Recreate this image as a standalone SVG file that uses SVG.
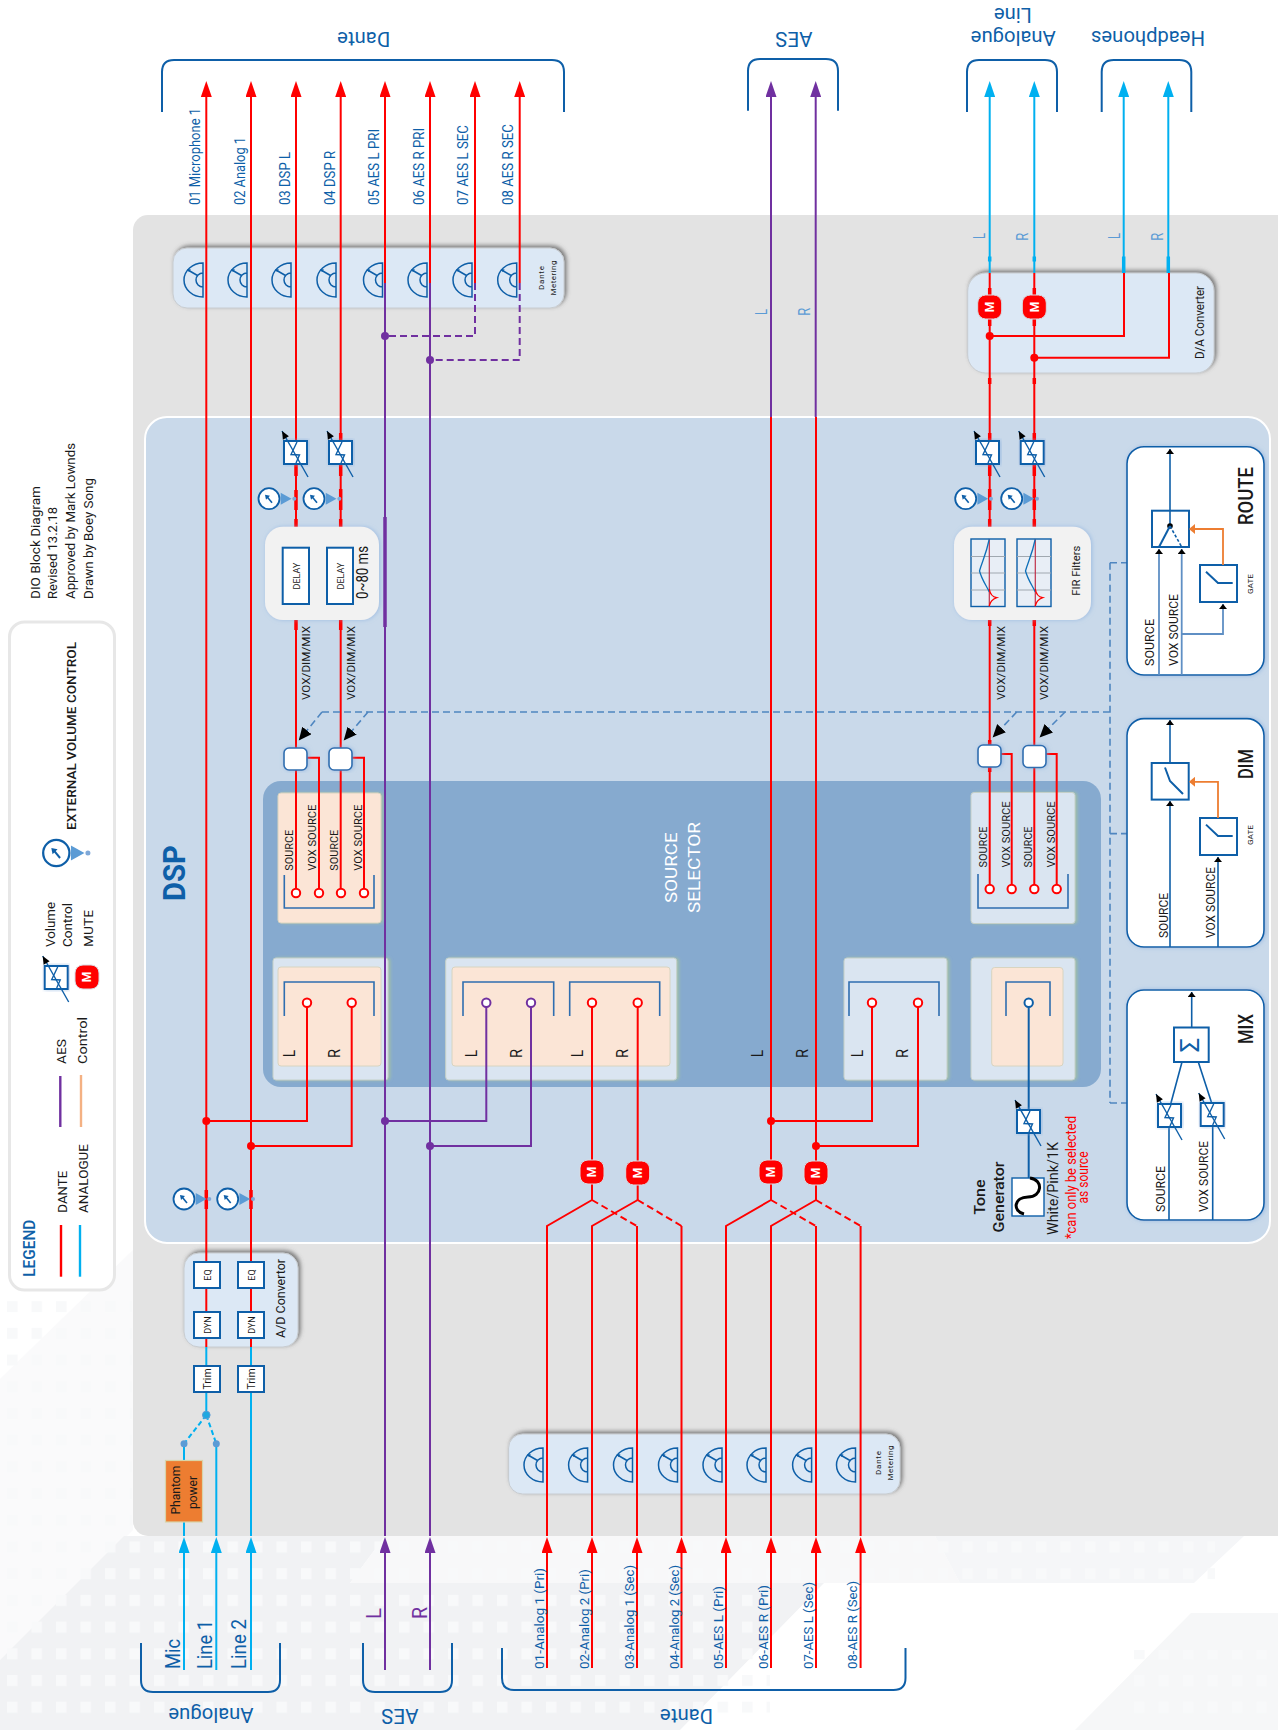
<svg xmlns="http://www.w3.org/2000/svg" width="1278" height="1730" viewBox="0 0 1278 1730">
<style>
text{font-family:Roboto,"Liberation Sans",sans-serif;fill:#1a1a1a}
.bt{fill:#0e5fa8}
.l{fill:none;stroke-width:2}
.red{stroke:#ff0000}.cy{stroke:#00b0f0}.pu{stroke:#7030a0}.th{stroke-width:3.5}
.d{stroke-dasharray:7 4}
.ctl{fill:none;stroke:#4f86c0;stroke-width:1.6;stroke-dasharray:7 4}
.br{fill:none;stroke:#0e5fa8;stroke-width:2}
.sel{fill:none;stroke:#2f6eb0;stroke-width:1.6}
.box{fill:#fff;stroke:#0e5fa8;stroke-width:2}
.mod{fill:#dce8f5;stroke:#c8ccd0;stroke-width:1}
.pale{fill:#dae5f1;stroke:#c5d0c8;stroke-width:1}
.peach{fill:#fbe5d6;stroke:#d8d4c0;stroke-width:1}
.gr{fill:#f2f2f2}
.pan{fill:#fff;stroke:#0e5fa8;stroke-width:1.6}
.in{fill:none;stroke:#5f8fc4;stroke-width:1.8}
.out{fill:none;stroke:#0e5fa8;stroke-width:1.6}
.or{fill:none;stroke:#ed7d31;stroke-width:1.8}
.mb{fill:#ff0000;stroke:#d8dde4;stroke-width:1}
.mt{fill:#fff;font-size:12px;font-weight:700;text-anchor:middle}
</style>
<defs>
<filter id="sh" x="-10%" y="-20%" width="120%" height="140%"><feDropShadow dx="2" dy="-2" stdDeviation="2.2" flood-color="#555" flood-opacity=".75"/></filter>
<filter id="gl" x="-10%" y="-10%" width="120%" height="120%"><feDropShadow dx="1" dy="0" stdDeviation="2" flood-color="#7fa8dc" flood-opacity=".6"/></filter>
<filter id="gg" x="-10%" y="-10%" width="125%" height="120%"><feDropShadow dx="2" dy="0" stdDeviation="1.5" flood-color="#a9c79a" flood-opacity=".7"/></filter>
<marker id="ar" markerUnits="userSpaceOnUse" markerWidth="16" markerHeight="11" refX="0" refY="5.5" orient="auto"><path d="M0,0L16,5.5L0,11z" fill="#ff0000"/></marker>
<marker id="ac" markerUnits="userSpaceOnUse" markerWidth="16" markerHeight="11" refX="0" refY="5.5" orient="auto"><path d="M0,0L16,5.5L0,11z" fill="#00b0f0"/></marker>
<marker id="ap" markerUnits="userSpaceOnUse" markerWidth="16" markerHeight="11" refX="0" refY="5.5" orient="auto"><path d="M0,0L16,5.5L0,11z" fill="#7030a0"/></marker>
<marker id="ak" markerUnits="userSpaceOnUse" markerWidth="14" markerHeight="13" refX="11" refY="6" orient="auto"><path d="M0,0L13,6L0,12z" fill="#000"/></marker>
<marker id="sk" markerUnits="userSpaceOnUse" markerWidth="6" markerHeight="9" refX="5" refY="4" orient="auto"><path d="M0,0L5,4L0,8z" fill="#000"/></marker>
<marker id="so" markerUnits="userSpaceOnUse" markerWidth="8" markerHeight="10" refX="5" refY="5" orient="auto"><path d="M0,0L6,5L0,10z" fill="#ed7d31"/></marker>
<g id="meter"><path d="M0,-17A19,17 0 0 0 0,17Z M0,-7A7,7 0 0 0 0,7 M-15,-10L-5.5,-4.5" fill="none" stroke="#0e5fa8" stroke-width="1.5"/><path d="M-16,-11L-12,-10.5L-14,-8Z" fill="#0e5fa8"/></g>
<g id="knob"><circle r="10.5" fill="#fff" stroke="#0e5fa8" stroke-width="1.8"/><path d="M3,4L-1.5,-1.5" stroke="#0e5fa8" stroke-width="1.6"/><path d="M-4,-4L1,-3L-3,1Z" fill="#0e5fa8"/><path d="M11.7,-6L22.5,0L11.7,6Z" fill="#5b9bd5"/><circle cx="25.3" r="2" fill="#7fa8d8"/></g>
<g id="vol"><rect width="23" height="23" class="box" filter="url(#gl)"/><path d="M13,1L7,13.5L15.5,14L12,22" fill="none" stroke="#0e5fa8" stroke-width="1.4"/><path d="M24,36L-2,-10" stroke="#0e5fa8" stroke-width="1.4"/><path d="M-2,-10L4.9,-4.7L-1.1,-1.3Z" fill="#000"/></g>
<g id="fir"><rect x="0" y="0" width="34" height="67.5" fill="#e8eef6" stroke="#0e5fa8" stroke-width="1.4"/><path d="M0,17.5H34M0,34H34M0,51H34" stroke="#a0a8b0" stroke-width="1"/><path d="M18.3,0V67.5" stroke="#c0304a" stroke-width="1.2"/><path d="M18.3,0C15,16 11,23 8.5,32C11,41 15,46 18.3,53" fill="none" stroke="#0e6fb8" stroke-width="1.3"/><path d="M18.3,50C19,55 22,58 25.7,58.7C22,60 19,63 18.3,67" fill="none" stroke="#ff0000" stroke-width="1.3"/></g>
<pattern id="sq" patternUnits="userSpaceOnUse" x="7" y="1541.5" width="24.5" height="26.7"><rect width="10.5" height="11" fill="#f8f9fa"/></pattern>
</defs>

<g id="background">
<rect width="1278" height="1730" fill="#fff"/>
<polygon points="0,1379 133,1250 133,1530 0,1660" fill="#fafafb"/>
<polygon points="0,1660 124,1536 385,1536 350,1583 824,1583 680,1730 0,1730" fill="#f1f2f4"/>
<polygon points="385,1536 935,1536 960,1583 350,1583" fill="#f8f8f9"/>
<polygon points="935,1536 1244,1536 1194,1583 960,1583" fill="#f5f6f8"/>
<polygon points="1075,1730 1191,1613 1278,1613 1278,1730" fill="#f6f7f8"/>
<rect x="0" y="1541" width="770" height="175" fill="url(#sq)"/>
<rect x="770" y="1541" width="445" height="40" fill="url(#sq)"/>
<rect x="1130" y="1650" width="148" height="66" fill="url(#sq)"/>
<rect x="0" y="1300" width="132" height="240" fill="url(#sq)"/>
<rect x="133" y="215" width="1165" height="1321" rx="15" fill="#e3e3e3"/>
<rect x="145" y="417" width="1125" height="826" rx="22" fill="#c9d9ea" stroke="#fff" stroke-width="2"/>
</g>

<g id="source-selector">
<rect x="263" y="781" width="838" height="306" rx="18" fill="#86aacf"/>
<text transform="translate(676.7 903) rotate(-90)" style="fill:#fff" font-size="17" textLength="70.7" lengthAdjust="spacingAndGlyphs">SOURCE</text>
<text transform="translate(700 913) rotate(-90)" style="fill:#fff" font-size="17" textLength="91" lengthAdjust="spacingAndGlyphs">SELECTOR</text>
<rect x="278" y="793" width="103" height="130" rx="3" class="peach" filter="url(#gg)"/>
<g font-size="11.5">
<text transform="translate(293 870.7) rotate(-90)" textLength="41" lengthAdjust="spacingAndGlyphs">SOURCE</text>
<text transform="translate(316 870.7) rotate(-90)" textLength="66" lengthAdjust="spacingAndGlyphs">VOX SOURCE</text>
<text transform="translate(338 870.7) rotate(-90)" textLength="41" lengthAdjust="spacingAndGlyphs">SOURCE</text>
<text transform="translate(362 870.7) rotate(-90)" textLength="66" lengthAdjust="spacingAndGlyphs">VOX SOURCE</text>
</g>
<path class="sel" d="M284.3,875V908H374V875"/>
<rect x="971" y="792.5" width="104" height="131" rx="3" class="pale" filter="url(#gg)"/>
<g font-size="11.5">
<text transform="translate(987 867.5) rotate(-90)" textLength="41" lengthAdjust="spacingAndGlyphs">SOURCE</text>
<text transform="translate(1010 867.5) rotate(-90)" textLength="66" lengthAdjust="spacingAndGlyphs">VOX SOURCE</text>
<text transform="translate(1032 867.5) rotate(-90)" textLength="41" lengthAdjust="spacingAndGlyphs">SOURCE</text>
<text transform="translate(1055 867.5) rotate(-90)" textLength="66" lengthAdjust="spacingAndGlyphs">VOX SOURCE</text>
</g>
<path class="sel" d="M978,874V908H1068V874"/>
<rect x="273" y="958" width="115" height="122" rx="3" class="pale" filter="url(#gg)"/>
<rect x="278" y="967" width="103" height="99" rx="3" class="peach"/>
<path class="sel" d="M284.3,1016V982H374V1016"/>
<rect x="445.7" y="958" width="231" height="122" rx="3" class="pale" filter="url(#gg)"/>
<rect x="452" y="967" width="218" height="99" rx="3" class="peach"/>
<path class="sel" d="M463,1016V982H553.7V1016M569.7,1016V982H659.7V1016"/>
<rect x="844" y="958" width="103" height="122" rx="3" class="pale" filter="url(#gg)"/>
<path class="sel" d="M849,1016V982H939V1016"/>
<rect x="971" y="958" width="104" height="122" rx="3" class="pale" filter="url(#gg)"/>
<rect x="991.7" y="967.5" width="71.3" height="98.5" rx="3" class="peach"/>
<path class="sel" d="M1006,1016V982H1050V1016"/>
<g font-size="16">
<text transform="translate(295 1057) rotate(-90)" textLength="7" lengthAdjust="spacingAndGlyphs">L</text>
<text transform="translate(340 1058) rotate(-90)" textLength="9" lengthAdjust="spacingAndGlyphs">R</text>
<text transform="translate(477 1057) rotate(-90)" textLength="7" lengthAdjust="spacingAndGlyphs">L</text>
<text transform="translate(522 1058) rotate(-90)" textLength="9" lengthAdjust="spacingAndGlyphs">R</text>
<text transform="translate(583 1057) rotate(-90)" textLength="7" lengthAdjust="spacingAndGlyphs">L</text>
<text transform="translate(628 1058) rotate(-90)" textLength="9" lengthAdjust="spacingAndGlyphs">R</text>
<text transform="translate(762.7 1057) rotate(-90)" textLength="7" lengthAdjust="spacingAndGlyphs">L</text>
<text transform="translate(807.7 1058) rotate(-90)" textLength="9" lengthAdjust="spacingAndGlyphs">R</text>
<text transform="translate(862.7 1057) rotate(-90)" textLength="7" lengthAdjust="spacingAndGlyphs">L</text>
<text transform="translate(908 1058) rotate(-90)" textLength="9" lengthAdjust="spacingAndGlyphs">R</text>
</g>
</g>

<g id="meter-top">
<rect x="173" y="248" width="391" height="60" rx="14" class="mod" filter="url(#sh)"/>
<use href="#meter" x="203" y="280"/><use href="#meter" x="247" y="280"/><use href="#meter" x="291" y="280"/><use href="#meter" x="336" y="280"/><use href="#meter" x="382.5" y="280"/><use href="#meter" x="427" y="280"/><use href="#meter" x="472" y="280"/><use href="#meter" x="516.7" y="280"/>
<text transform="translate(544 278) rotate(-90)" font-size="8" text-anchor="middle" textLength="24">Dante</text>
<text transform="translate(556 278) rotate(-90)" font-size="8" text-anchor="middle" textLength="35">Metering</text>
</g>
<g id="meter-bottom">
<rect x="508.6" y="1434" width="391.4" height="60" rx="14" class="mod" filter="url(#sh)"/>
<use href="#meter" x="543" y="1465"/><use href="#meter" x="587.6" y="1465"/><use href="#meter" x="632.5" y="1465"/><use href="#meter" x="677.5" y="1465"/><use href="#meter" x="722" y="1465"/><use href="#meter" x="766" y="1465"/><use href="#meter" x="811.6" y="1465"/><use href="#meter" x="855.5" y="1465"/>
<text transform="translate(881 1463) rotate(-90)" font-size="8" text-anchor="middle" textLength="24">Dante</text>
<text transform="translate(893 1463) rotate(-90)" font-size="8" text-anchor="middle" textLength="35">Metering</text>
</g>
<g id="ad-converter"><rect x="184" y="1253" width="114" height="94" rx="15" class="mod" filter="url(#sh)"/>
<text transform="translate(285 1338) rotate(-90)" font-size="13" textLength="79" lengthAdjust="spacingAndGlyphs">A/D Convertor</text></g>
<g id="da-converter"><rect x="967.7" y="273" width="246.3" height="100" rx="18" class="mod" filter="url(#sh)"/>
<text transform="translate(1204 359) rotate(-90)" font-size="13" textLength="73" lengthAdjust="spacingAndGlyphs">D/A Converter</text></g>

<g id="connectors">
<g>
<path class="l red" d="M206.3,1347V97" marker-end="url(#ar)"/>
<path class="l red" d="M251,1347V97" marker-end="url(#ar)"/>
<path class="l red" d="M296,893V97" marker-end="url(#ar)"/>
<path class="l red" d="M340.7,893V97" marker-end="url(#ar)"/>
<path class="l red" d="M385,283V97" marker-end="url(#ar)"/>
<path class="l red" d="M430,283V97" marker-end="url(#ar)"/>
<path class="l red" d="M475,283V97" marker-end="url(#ar)"/>
<path class="l red" d="M519.7,283V97" marker-end="url(#ar)"/>
<path class="l red" d="M206.3,1121H307V1007"/>
<path class="l red" d="M251,1146H351.7V1007"/>
<path class="l red" d="M592,1007V1200M637.7,1007V1200"/>
<path class="l red" d="M771,417V1200M816,417V1200"/>
<path class="l red" d="M771,1121H872V1007M816,1146H918V1007"/>
<path class="l red" d="M307,757.7H319V889M352,757.7H364V889"/>
<path class="l red" d="M1001,754H1011.7V885M1045.7,754H1056.7V885"/>
<path class="l red" d="M989.7,885V273M1034.3,885V273"/>
<path class="l red" d="M989.7,336H1124V273M1034.3,357.7H1169V273"/>
<path class="l red" d="M547,1536V1226L592,1200M592,1536V1226L637.7,1200M637,1536V1226M681.5,1536V1226"/>
<path class="l red" d="M726,1536V1226L771,1200M771,1536V1226L816,1200M816,1536V1226M860.6,1536V1226"/>
<path class="l red d" d="M592,1200L637,1226M637.7,1200L681.5,1226M771,1200L816,1226M816,1200L860.6,1226"/>
<path class="l red" d="M547,1668V1553" marker-end="url(#ar)"/>
<path class="l red" d="M592,1668V1553" marker-end="url(#ar)"/>
<path class="l red" d="M637,1668V1553" marker-end="url(#ar)"/>
<path class="l red" d="M681.5,1668V1553" marker-end="url(#ar)"/>
<path class="l red" d="M726,1668V1553" marker-end="url(#ar)"/>
<path class="l red" d="M771,1668V1553" marker-end="url(#ar)"/>
<path class="l red" d="M816,1668V1553" marker-end="url(#ar)"/>
<path class="l red" d="M860.6,1668V1553" marker-end="url(#ar)"/>
<path class="l red th" d="M296,464V476M296,490V510M296,519V527M296,620V630M340.7,433V441M340.7,464V476M340.7,489V510M340.7,519V527M340.7,620V630M206.3,1190V1209M251,1190V1209M989.7,433V441M989.7,464V476M989.7,489V510M989.7,519V527M989.7,620V626M1034.3,433V441M1034.3,464V476M989.7,740V745M989.7,767V772M1034.3,489V510M1034.3,519V527M1034.3,620V626M989.7,288V295M1034.3,288V295M989.7,319V326M1034.3,319V326M989.7,378V384M1034.3,378V384"/>
</g>
<g>
<path class="l cy" d="M989.7,273V97" marker-end="url(#ac)"/>
<path class="l cy" d="M1034.3,273V97" marker-end="url(#ac)"/>
<path class="l cy" d="M1123.7,273V97" marker-end="url(#ac)"/>
<path class="l cy" d="M1168.3,273V97" marker-end="url(#ac)"/>
<path class="l cy th" d="M989.7,256.5V261.5M1034.3,256.5V261.5M1123.7,256.5V273M1168.3,256.5V273"/>
<path class="l cy" d="M206.3,1347V1415"/>
<path class="l cy" d="M251,1347V1536"/>
<path class="l cy" d="M216.3,1443.8V1536"/>
<path class="l cy" d="M184,1443.8V1461M184,1522V1536"/>
<path class="l cy" d="M184,1670V1553" marker-end="url(#ac)"/>
<path class="l cy" d="M216.3,1670V1553" marker-end="url(#ac)"/>
<path class="l cy" d="M251,1670V1553" marker-end="url(#ac)"/>
<path class="l cy" d="M206.3,1415L184,1443.8M206.3,1415L216.3,1443.8" stroke-dasharray="5 3"/>
</g>
<g>
<path class="l pu" d="M385,283V1536M430,283V1536"/>
<path class="l pu th" d="M385,517V627"/>
<path class="l pu" d="M385,1121H486.3V1007M430,1146H531V1007"/>
<path class="l pu d" d="M475,283V336H385M519.7,283V360H430"/>
<path class="l pu" d="M771,417V97" marker-end="url(#ap)"/>
<path class="l pu" d="M815.7,417V97" marker-end="url(#ap)"/>
<path class="l pu" d="M385,1670V1553" marker-end="url(#ap)"/>
<path class="l pu" d="M430,1670V1553" marker-end="url(#ap)"/>
</g>
<path class="out" style="stroke-width:2" d="M1028.7,1007V1178"/>
<path class="ctl" d="M1110,562.7V1103M1110,562.7H1127M1110,833.6H1127M1110,1103H1127M1110,712H322"/>
<path class="ctl" d="M322,712L300,739" marker-end="url(#ak)"/>
<path class="ctl" d="M368,712L345,739" marker-end="url(#ak)"/>
<path class="ctl" d="M1016.7,712L994,736" marker-end="url(#ak)"/>
<path class="ctl" d="M1065,712L1041,736" marker-end="url(#ak)"/>
</g>

<g id="junctions">
<g fill="#ff0000"><circle cx="206.3" cy="1121" r="4"/><circle cx="251" cy="1146" r="4"/><circle cx="771" cy="1121" r="4"/><circle cx="816" cy="1146" r="4"/><circle cx="989.7" cy="336" r="4"/><circle cx="1034.3" cy="357.7" r="4"/></g>
<g fill="#7030a0"><circle cx="385" cy="336" r="4"/><circle cx="430" cy="360" r="4"/><circle cx="385" cy="1121" r="4"/><circle cx="430" cy="1146" r="4"/></g>
<circle cx="206.3" cy="1415" r="3.8" fill="#1fa8e0" stroke="#5b9bd5"/><circle cx="184" cy="1443.8" r="3.5" fill="#5b9bd5"/><circle cx="216.3" cy="1443.8" r="3.5" fill="#5b9bd5"/>
<g fill="#fff" stroke="#ff0000" stroke-width="2">
<circle cx="296" cy="893" r="4.2"/><circle cx="319" cy="893" r="4.2"/><circle cx="341" cy="893" r="4.2"/><circle cx="364" cy="893" r="4.2"/>
<circle cx="989.7" cy="889" r="4.2"/><circle cx="1011.7" cy="889" r="4.2"/><circle cx="1034.3" cy="889" r="4.2"/><circle cx="1056.7" cy="889" r="4.2"/>
<circle cx="307" cy="1002.7" r="4.2"/><circle cx="351.7" cy="1002.7" r="4.2"/><circle cx="592" cy="1002.7" r="4.2"/><circle cx="637.7" cy="1002.7" r="4.2"/><circle cx="872" cy="1002.7" r="4.2"/><circle cx="918" cy="1002.7" r="4.2"/>
</g>
<g fill="#fff" stroke="#7030a0" stroke-width="2"><circle cx="486.3" cy="1002.7" r="4.2"/><circle cx="531" cy="1002.7" r="4.2"/></g>
<circle cx="1028.7" cy="1002.7" r="4.2" fill="#fff" stroke="#0e5fa8" stroke-width="2"/>
</g>

<g id="phantom"><rect x="165.5" y="1460.5" width="37" height="61.5" fill="#ed7d31" stroke="#d9d4a8" stroke-width="1.2"/>
<text transform="translate(180 1514.6) rotate(-90)" font-size="12.5" textLength="49" lengthAdjust="spacingAndGlyphs">Phantom</text>
<text transform="translate(196.7 1509) rotate(-90)" font-size="12.5" textLength="33" lengthAdjust="spacingAndGlyphs">power</text></g>

<g id="trim-eq-dyn" font-size="10.5">
<rect x="194" y="1366" width="26" height="26" class="box"/><rect x="238" y="1366" width="26" height="26" class="box"/>
<rect x="194" y="1312" width="26" height="26" class="box"/><rect x="238" y="1312" width="26" height="26" class="box"/>
<rect x="194" y="1262" width="26" height="26" class="box"/><rect x="238" y="1262" width="26" height="26" class="box"/>
<text transform="translate(211 1379) rotate(-90)" text-anchor="middle">Trim</text><text transform="translate(255 1379) rotate(-90)" text-anchor="middle">Trim</text>
<text transform="translate(211 1325) rotate(-90)" text-anchor="middle" font-size="9">DYN</text><text transform="translate(255 1325) rotate(-90)" text-anchor="middle" font-size="9">DYN</text>
<text transform="translate(211 1275) rotate(-90)" text-anchor="middle" font-size="9">EQ</text><text transform="translate(255 1275) rotate(-90)" text-anchor="middle" font-size="9">EQ</text>
</g>

<g id="knobs"><use href="#knob" x="184" y="1199"/><use href="#knob" x="227.7" y="1199"/><use href="#knob" x="269" y="498.7"/><use href="#knob" x="314" y="498.7"/><use href="#knob" x="965.7" y="498.7"/><use href="#knob" x="1011.7" y="498.7"/></g>
<g id="volumes"><use href="#vol" x="284" y="441"/><use href="#vol" x="329" y="441"/><use href="#vol" x="976" y="441"/><use href="#vol" x="1020.7" y="441"/><use href="#vol" x="1017" y="1110"/></g>

<g id="delay">
<rect x="265" y="526.7" width="114" height="93.3" rx="18" class="gr" filter="url(#gl)"/>
<rect x="282.7" y="547.7" width="26.3" height="56.3" class="box"/><rect x="327" y="547.7" width="26" height="56.3" class="box"/>
<text transform="translate(300 576) rotate(-90)" font-size="9" text-anchor="middle">DELAY</text><text transform="translate(344 576) rotate(-90)" font-size="9" text-anchor="middle">DELAY</text>
<text transform="translate(368 599) rotate(-90)" font-size="16" textLength="53" lengthAdjust="spacingAndGlyphs">0~80 ms</text>
</g>
<g id="fir-filters">
<rect x="954" y="526.7" width="137" height="93.3" rx="18" class="gr" filter="url(#gl)"/>
<use href="#fir" x="971" y="539"/><use href="#fir" x="1017" y="539"/>
<text transform="translate(1080 570.7) rotate(-90)" font-size="11.5" text-anchor="middle" textLength="50" lengthAdjust="spacingAndGlyphs">FIR Filters</text>
</g>
<g id="vdm" font-size="11.5">
<text transform="translate(310 700) rotate(-90)" textLength="74" lengthAdjust="spacingAndGlyphs">VOX/DIM/MIX</text>
<text transform="translate(355 700) rotate(-90)" textLength="74" lengthAdjust="spacingAndGlyphs">VOX/DIM/MIX</text>
<text transform="translate(1005 700) rotate(-90)" textLength="74" lengthAdjust="spacingAndGlyphs">VOX/DIM/MIX</text>
<text transform="translate(1048 700) rotate(-90)" textLength="74" lengthAdjust="spacingAndGlyphs">VOX/DIM/MIX</text>
</g>
<g id="switches" fill="#fff" stroke="#2f6eb0" stroke-width="1.6" filter="url(#gl)">
<rect x="284" y="748" width="23" height="22" rx="5"/><rect x="329" y="748" width="23" height="22" rx="5"/><rect x="978" y="745" width="23" height="22" rx="5"/><rect x="1023" y="745.5" width="23" height="22" rx="5"/>
</g>
<g id="mutes">
<rect x="580" y="1160" width="24" height="24" rx="8" class="mb"/><text transform="translate(596.2 1172) rotate(-90)" class="mt">M</text>
<rect x="625.7" y="1161" width="24" height="24" rx="8" class="mb"/><text transform="translate(641.9 1173) rotate(-90)" class="mt">M</text>
<rect x="759" y="1160" width="24" height="24" rx="8" class="mb"/><text transform="translate(775.2 1172) rotate(-90)" class="mt">M</text>
<rect x="804" y="1161" width="24" height="24" rx="8" class="mb"/><text transform="translate(820.2 1173) rotate(-90)" class="mt">M</text>
<rect x="977.7" y="295" width="24" height="24" rx="8" class="mb"/><text transform="translate(993.9 307) rotate(-90)" class="mt">M</text>
<rect x="1022.3" y="295" width="24" height="24" rx="8" class="mb"/><text transform="translate(1038.5 307) rotate(-90)" class="mt">M</text>
</g>

<g id="tone">
<rect x="1012" y="1178" width="32" height="38" fill="#fff" stroke="#0e5fa8" stroke-width="1.4"/>
<path d="M1030,1178C1044,1180 1042,1197 1028,1197C1014,1197 1012,1211 1024,1214" fill="none" stroke="#000" stroke-width="3"/>
<text transform="translate(985 1197) rotate(-90)" font-size="15" font-weight="500" text-anchor="middle" textLength="35" lengthAdjust="spacingAndGlyphs">Tone</text>
<text transform="translate(1004 1197) rotate(-90)" font-size="15" font-weight="500" text-anchor="middle" textLength="71" lengthAdjust="spacingAndGlyphs">Generator</text>
<text transform="translate(1058 1235) rotate(-90)" font-size="15" textLength="93" lengthAdjust="spacingAndGlyphs">White/Pink/1K</text>
<text transform="translate(1076 1239) rotate(-90)" font-size="14" style="fill:#ff0000" textLength="123" lengthAdjust="spacingAndGlyphs">*can only be selected</text>
<text transform="translate(1088 1177.5) rotate(-90)" font-size="14" style="fill:#ff0000" text-anchor="middle" textLength="52" lengthAdjust="spacingAndGlyphs">as source</text>
</g>

<g id="route">
<rect x="1127" y="446.7" width="137" height="228.3" rx="17" class="pan" filter="url(#gl)"/>
<rect x="1152" y="510.7" width="37" height="36.3" class="box"/>
<path class="out" d="M1170,526V449" marker-end="url(#sk)"/>
<circle cx="1170" cy="526" r="2.8" fill="#000"/>
<path class="out" style="stroke-width:2" d="M1170,526L1159,547"/><path class="out" stroke-dasharray="3 2" d="M1170,526L1181.7,547"/>
<path class="in" d="M1159,675V549" marker-end="url(#sk)"/><path class="in" d="M1181.7,675V549" marker-end="url(#sk)"/>
<rect x="1200" y="565" width="37" height="37" class="box"/>
<path class="out" style="stroke-width:2" d="M1206,571.7L1218,583H1232.7"/>
<path class="in" d="M1181.7,634H1223V604" marker-end="url(#sk)"/>
<path class="or" d="M1223,565V529H1190" marker-end="url(#so)"/>
<text transform="translate(1253 525) rotate(-90)" font-size="20" font-weight="500" textLength="58" lengthAdjust="spacingAndGlyphs">ROUTE</text>
<text transform="translate(1253 584) rotate(-90)" font-size="8" text-anchor="middle" textLength="20" lengthAdjust="spacingAndGlyphs">GATE</text>
<text transform="translate(1154 666) rotate(-90)" font-size="12" textLength="47" lengthAdjust="spacingAndGlyphs">SOURCE</text>
<text transform="translate(1177.7 666) rotate(-90)" font-size="12" textLength="72" lengthAdjust="spacingAndGlyphs">VOX SOURCE</text>
</g>
<g id="dim">
<rect x="1127" y="718.6" width="137" height="228.4" rx="17" class="pan" filter="url(#gl)"/>
<rect x="1151.7" y="763" width="37" height="36.6" class="box"/>
<path class="out" d="M1170,763V720" marker-end="url(#sk)"/><path class="out" d="M1170,947V801" marker-end="url(#sk)"/>
<path class="out" style="stroke-width:2" d="M1165,767.5L1170,781L1183,794"/>
<rect x="1200" y="818" width="37" height="37" class="box"/>
<path class="out" style="stroke-width:2" d="M1206,824.6L1218,836H1232.7"/>
<path class="out" d="M1218,947V857" marker-end="url(#sk)"/>
<path class="or" d="M1218,818V781.8H1190" marker-end="url(#so)"/>
<text transform="translate(1253 764) rotate(-90)" font-size="20" font-weight="500" text-anchor="middle" textLength="30" lengthAdjust="spacingAndGlyphs">DIM</text>
<text transform="translate(1252.7 835) rotate(-90)" font-size="8" text-anchor="middle" textLength="20" lengthAdjust="spacingAndGlyphs">GATE</text>
<text transform="translate(1168 938) rotate(-90)" font-size="12" textLength="45" lengthAdjust="spacingAndGlyphs">SOURCE</text>
<text transform="translate(1215 938) rotate(-90)" font-size="12" textLength="71" lengthAdjust="spacingAndGlyphs">VOX SOURCE</text>
</g>
<g id="mix">
<rect x="1127" y="990" width="137" height="230" rx="17" class="pan" filter="url(#gl)"/>
<rect x="1174" y="1027.5" width="34.7" height="34.5" class="box"/>
<text transform="translate(1198.5 1045) rotate(-90)" font-size="26" text-anchor="middle" style="fill:#0e5fa8">Σ</text>
<path class="out" d="M1191.7,1027.5V992" marker-end="url(#sk)"/>
<path class="out" d="M1182,1062L1170.7,1104M1198.3,1062L1212,1104M1169,1126V1220M1212.7,1126V1220"/>
<use href="#vol" x="1158" y="1104"/><use href="#vol" x="1200.7" y="1103"/>
<text transform="translate(1253 1029) rotate(-90)" font-size="20" font-weight="500" text-anchor="middle" textLength="30" lengthAdjust="spacingAndGlyphs">MIX</text>
<text transform="translate(1165 1212) rotate(-90)" font-size="12" textLength="46" lengthAdjust="spacingAndGlyphs">SOURCE</text>
<text transform="translate(1208 1212) rotate(-90)" font-size="12" textLength="71" lengthAdjust="spacingAndGlyphs">VOX SOURCE</text>
</g>

<g id="dsp-label"><text transform="translate(185 901) rotate(-90)" font-size="31" font-weight="700" style="fill:#0e5fa8" textLength="56" lengthAdjust="spacingAndGlyphs">DSP</text></g>

<g id="brackets">
<path class="br" d="M162,112V72Q162,60 174,60H552Q564,60 564,72V112"/>
<path class="br" d="M748,110.7V71Q748,59 760,59H826Q838,59 838,71V110.7"/>
<path class="br" d="M967,112V72Q967,60 979,60H1045Q1057,60 1057,72V112"/>
<path class="br" d="M1101.7,112V72Q1101.7,60 1113.7,60H1179.3Q1191.3,60 1191.3,72V112"/>
<path class="br" d="M141,1643V1680Q141,1692 153,1692H268Q280,1692 280,1680V1643"/>
<path class="br" d="M363,1643V1680Q363,1692 375,1692H440Q452,1692 452,1680V1643"/>
<path class="br" d="M502,1648V1678Q502,1690 514,1690H893.5Q905.5,1690 905.5,1678V1648"/>
</g>

<g id="labels-outer" font-size="21">
<text transform="translate(363.7 32) rotate(180)" class="bt" style="fill:#0e5fa8" textLength="53" lengthAdjust="spacingAndGlyphs" text-anchor="middle">Dante</text>
<text transform="translate(794 32) rotate(180)" style="fill:#0e5fa8" textLength="37" lengthAdjust="spacingAndGlyphs" text-anchor="middle">AES</text>
<text transform="translate(1013.3 30.7) rotate(180)" style="fill:#0e5fa8" textLength="85" lengthAdjust="spacingAndGlyphs" text-anchor="middle">Analogue</text>
<text transform="translate(1012.8 8.3) rotate(180)" style="fill:#0e5fa8" textLength="37.7" lengthAdjust="spacingAndGlyphs" text-anchor="middle">Line</text>
<text transform="translate(1148 30.7) rotate(180)" style="fill:#0e5fa8" textLength="114" lengthAdjust="spacingAndGlyphs" text-anchor="middle">Headphones</text>
<text transform="translate(211 1708) rotate(180)" style="fill:#0e5fa8" textLength="85" lengthAdjust="spacingAndGlyphs" text-anchor="middle">Analogue</text>
<text transform="translate(400 1708.5) rotate(180)" style="fill:#0e5fa8" textLength="37" lengthAdjust="spacingAndGlyphs" text-anchor="middle">AES</text>
<text transform="translate(686.5 1709) rotate(180)" style="fill:#0e5fa8" textLength="53" lengthAdjust="spacingAndGlyphs" text-anchor="middle">Dante</text>
</g>
<g id="labels-in">
<g font-size="21">
<text transform="translate(180 1669) rotate(-90)" style="fill:#0e5fa8" textLength="30" lengthAdjust="spacingAndGlyphs">Mic</text>
<text transform="translate(211.7 1669) rotate(-90)" style="fill:#0e5fa8" textLength="49" lengthAdjust="spacingAndGlyphs">Line 1</text>
<text transform="translate(246 1669) rotate(-90)" style="fill:#0e5fa8" textLength="50" lengthAdjust="spacingAndGlyphs">Line 2</text>
<text transform="translate(380.7 1619) rotate(-90)" style="fill:#7030a0" textLength="11" lengthAdjust="spacingAndGlyphs">L</text>
<text transform="translate(426.7 1619) rotate(-90)" style="fill:#7030a0" textLength="12" lengthAdjust="spacingAndGlyphs">R</text>
</g>
<g font-size="13">
<text transform="translate(544 1669) rotate(-90)" style="fill:#0e5fa8" textLength="101" lengthAdjust="spacingAndGlyphs">01-Analog 1 (Pri)</text>
<text transform="translate(589 1669) rotate(-90)" style="fill:#0e5fa8" textLength="100" lengthAdjust="spacingAndGlyphs">02-Analog 2 (Pri)</text>
<text transform="translate(634 1669) rotate(-90)" style="fill:#0e5fa8" textLength="104" lengthAdjust="spacingAndGlyphs">03-Analog 1 (Sec)</text>
<text transform="translate(678.5 1669) rotate(-90)" style="fill:#0e5fa8" textLength="104" lengthAdjust="spacingAndGlyphs">04-Analog 2 (Sec)</text>
<text transform="translate(723 1669) rotate(-90)" style="fill:#0e5fa8" textLength="83" lengthAdjust="spacingAndGlyphs">05-AES L (Pri)</text>
<text transform="translate(768 1669) rotate(-90)" style="fill:#0e5fa8" textLength="84" lengthAdjust="spacingAndGlyphs">06-AES R (Pri)</text>
<text transform="translate(812.6 1669) rotate(-90)" style="fill:#0e5fa8" textLength="87" lengthAdjust="spacingAndGlyphs">07-AES L (Sec)</text>
<text transform="translate(857 1669) rotate(-90)" style="fill:#0e5fa8" textLength="88" lengthAdjust="spacingAndGlyphs">08-AES R (Sec)</text>
</g>
</g>
<g id="labels-out" font-size="14">
<text transform="translate(200 205) rotate(-90)" style="fill:#0e5fa8" textLength="97" lengthAdjust="spacingAndGlyphs">01 Microphone 1</text>
<text transform="translate(245 205) rotate(-90)" style="fill:#0e5fa8" textLength="68" lengthAdjust="spacingAndGlyphs">02 Analog 1</text>
<text transform="translate(290 205) rotate(-90)" style="fill:#0e5fa8" textLength="53" lengthAdjust="spacingAndGlyphs">03 DSP L</text>
<text transform="translate(335 205) rotate(-90)" style="fill:#0e5fa8" textLength="54" lengthAdjust="spacingAndGlyphs">04 DSP R</text>
<text transform="translate(379 205) rotate(-90)" style="fill:#0e5fa8" textLength="76" lengthAdjust="spacingAndGlyphs">05 AES L PRI</text>
<text transform="translate(424 205) rotate(-90)" style="fill:#0e5fa8" textLength="77" lengthAdjust="spacingAndGlyphs">06 AES R PRI</text>
<text transform="translate(468 205) rotate(-90)" style="fill:#0e5fa8" textLength="80" lengthAdjust="spacingAndGlyphs">07 AES L SEC</text>
<text transform="translate(513 205) rotate(-90)" style="fill:#0e5fa8" textLength="81" lengthAdjust="spacingAndGlyphs">08 AES R SEC</text>
</g>
<g id="labels-lr" font-size="16">
<text transform="translate(985 239) rotate(-90)" style="fill:#5b9bd5" textLength="6" lengthAdjust="spacingAndGlyphs">L</text>
<text transform="translate(1028.3 240.7) rotate(-90)" style="fill:#5b9bd5" textLength="8" lengthAdjust="spacingAndGlyphs">R</text>
<text transform="translate(1120 239) rotate(-90)" style="fill:#5b9bd5" textLength="6" lengthAdjust="spacingAndGlyphs">L</text>
<text transform="translate(1163.3 240.7) rotate(-90)" style="fill:#5b9bd5" textLength="8" lengthAdjust="spacingAndGlyphs">R</text>
<text transform="translate(766.7 315) rotate(-90)" style="fill:#5b9bd5" textLength="6" lengthAdjust="spacingAndGlyphs">L</text>
<text transform="translate(810 315.7) rotate(-90)" style="fill:#5b9bd5" textLength="8" lengthAdjust="spacingAndGlyphs">R</text>
</g>

<g id="legend">
<rect x="9.5" y="622" width="105" height="668" rx="15" fill="#fff" stroke="#e7e7e7" stroke-width="3"/>
<text transform="translate(35 1276.7) rotate(-90)" font-size="16" font-weight="500" style="fill:#0e5fa8" textLength="57" lengthAdjust="spacingAndGlyphs">LEGEND</text>
<path d="M61,1225V1276.7" stroke="#ff0000" stroke-width="2.4"/><path d="M80,1225V1276.7" stroke="#00b0f0" stroke-width="2.4"/>
<path d="M60.3,1076V1127" stroke="#7030a0" stroke-width="2.4"/><path d="M81,1075V1127" stroke="#f4b183" stroke-width="2.4"/>
<g font-size="13">
<text transform="translate(66.7 1212.7) rotate(-90)" textLength="42" lengthAdjust="spacingAndGlyphs">DANTE</text>
<text transform="translate(87.7 1213) rotate(-90)" textLength="69" lengthAdjust="spacingAndGlyphs">ANALOGUE</text>
<text transform="translate(66 1064) rotate(-90)" textLength="25" lengthAdjust="spacingAndGlyphs">AES</text>
<text transform="translate(86.7 1064) rotate(-90)" textLength="47" lengthAdjust="spacingAndGlyphs">Control</text>
<text transform="translate(55 947) rotate(-90)" textLength="45" lengthAdjust="spacingAndGlyphs">Volume</text>
<text transform="translate(71.7 947) rotate(-90)" textLength="44" lengthAdjust="spacingAndGlyphs">Control</text>
<text transform="translate(93 947) rotate(-90)" textLength="37" lengthAdjust="spacingAndGlyphs">MUTE</text>
<text transform="translate(76 830) rotate(-90)" font-weight="500" textLength="188" lengthAdjust="spacingAndGlyphs">EXTERNAL VOLUME CONTROL</text>
</g>
<use href="#vol" x="44.7" y="966"/>
<rect x="75" y="965" width="24" height="24" rx="8" class="mb"/><text transform="translate(91.2 977) rotate(-90)" class="mt">M</text>
<use href="#knob" transform="translate(56.3 853) scale(1.25)"/>
</g>
<g id="info" font-size="13">
<text transform="translate(40 599) rotate(-90)" textLength="113" lengthAdjust="spacingAndGlyphs">DIO Block Diagram</text>
<text transform="translate(57.3 599) rotate(-90)" textLength="92" lengthAdjust="spacingAndGlyphs">Revised 13.2.18</text>
<text transform="translate(75.3 599) rotate(-90)" textLength="156" lengthAdjust="spacingAndGlyphs">Approved by Mark Lownds</text>
<text transform="translate(93.3 599) rotate(-90)" textLength="121" lengthAdjust="spacingAndGlyphs">Drawn by Boey Song</text>
</g>
</svg>
